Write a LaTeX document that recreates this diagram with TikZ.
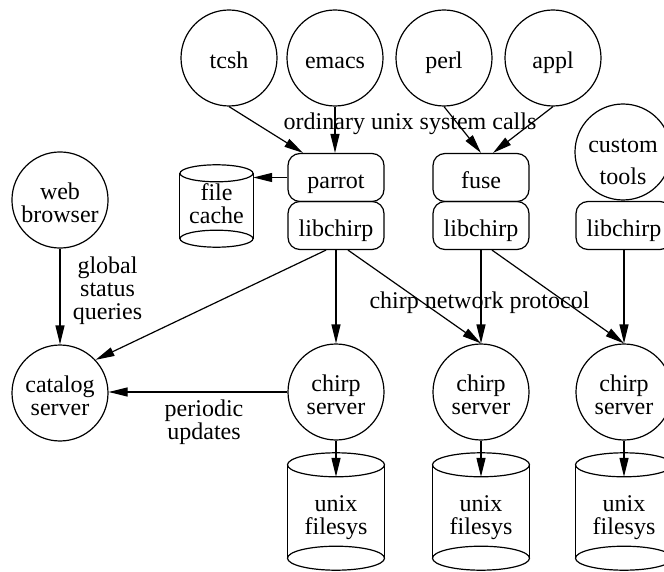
\documentclass[tikz,border=0pt]{standalone}
\usepackage{fontspec}
\setmainfont{Liberation Serif}
\usetikzlibrary{arrows.meta,calc}
% multi-line label with fixed room above the first and below the last baseline
\newcommand\lines[2][28pt]{\rule{0pt}{#1}#2\rule[-6pt]{0pt}{0pt}}
\begin{document}
\begin{tikzpicture}[x=1pt,y=-1pt,
  note/.style={font=\fontsize{24}{23}\selectfont, align=center, inner sep=0pt,
    execute at begin node={\rule{0pt}{28pt}},
    execute at end node={\rule[-6pt]{0pt}{0pt}}},
  prog/.style={note, circle, draw, line width=1.2pt, minimum size=96pt},
  stack/.style={note, draw, line width=1.2pt, rounded corners=12pt,
    minimum width=96pt, minimum height=48pt},
  disk/.style={note, minimum width=#1},
  flow/.style={line width=1.2pt, -{Triangle[length=19pt,width=9pt]}},
]
\useasboundingbox (0,0) rectangle (664,572);

% applications
\node[prog] (tcsh)   at (229,58)  {tcsh};
\node[prog] (emacs)  at (335,58)  {emacs};
\node[prog] (perl)   at (444,58)  {perl};
\node[prog] (appl)   at (553,58)  {appl};
\node[prog, inner sep=-5pt] (custom) at (623,152) {\lines[40pt]{custom\\[9pt]tools}};
\node[prog] (web)    at (60,200)  {\lines{web\\browser}};

% adapters and client libraries
\node[stack] (parrot) at (336,177.5) {parrot};
\node[stack] (lib1)   at (336,225.5) {libchirp};
\node[stack] (fuse)   at (481,177.5) {fuse};
\node[stack] (lib2)   at (481,225.5) {libchirp};
\node[stack] (lib3)   at (624,225.5) {libchirp};

% servers
\node[prog] (catalog) at (60,393)  {\lines{catalog\\server}};
\node[prog] (chirp1)  at (336,392) {\lines{chirp\\server}};
\node[prog] (chirp2)  at (481,392) {\lines{chirp\\server}};
\node[prog] (chirp3)  at (624,392) {\lines{chirp\\server}};

% storage
\node[disk=73pt, minimum height=82pt]  (fc)  at (216.5,206) {\lines[18pt]{file\\cache}};
\node[disk=97pt, minimum height=117pt] (fs1) at (336,511.5) {\lines{unix\\filesys}};
\node[disk=97pt, minimum height=117pt] (fs2) at (481,511.5) {\lines{unix\\filesys}};
\node[disk=97pt, minimum height=117pt] (fs3) at (624,511.5) {\lines{unix\\filesys}};

% cylinder outlines
\foreach \n/\rx/\ry in {fc/36.5/8.5, fs1/48.5/12, fs2/48.5/12, fs3/48.5/12} {
  \draw[line width=1.2pt] ($(\n.north)+(0,\ry)$) ellipse [x radius=\rx pt, y radius=\ry pt];
  \draw[line width=1.2pt] ($(\n.south)-(0,\ry)$) ellipse [x radius=\rx pt, y radius=\ry pt];
  \draw[line width=1.2pt] ($(\n.north west)+(0,\ry)$) -- ($(\n.south west)-(0,\ry)$);
  \draw[line width=1.2pt] ($(\n.north east)+(0,\ry)$) -- ($(\n.south east)-(0,\ry)$);
}

% edge labels
\node[note] (calls)   at (410,119)   {ordinary unix system calls};
\node[note] (proto)   at (479.5,297) {chirp network protocol};
\node[note] (queries) at (107.5,285) {\lines{global\\status\\queries}};
\node[note] (updates) at (204,417)   {\lines{periodic\\updates}};

% system calls
\draw[flow] (tcsh.south) -- ([xshift=-33pt]parrot.north);
\draw[flow] (emacs.south) -- (emacs.south |- parrot.north);
\draw[flow] (perl.south) -- (fuse.north);
\draw[flow] (appl.south) -- ([xshift=12pt]fuse.north);
\draw[flow] (parrot.west) -- (parrot.west -| fc.east);

% catalog traffic
\draw[flow] (web.south) -- (catalog.north);
\draw[flow] ([xshift=-10pt]lib1.south) -- (catalog.43);
\draw[flow] (chirp1.west) -- (chirp1.west -| catalog.east);

% chirp protocol
\draw[flow] (lib1.south) -- (chirp1.north);
\draw[flow] ([xshift=12pt]lib1.south) -- (chirp2.north);
\draw[flow] (lib2.south) -- (chirp2.north);
\draw[flow] ([xshift=11pt]lib2.south) -- (chirp3.north);
\draw[flow] (lib3.south) -- (chirp3.north);

% servers to local storage
\draw[flow] (chirp1.south) -- ($(fs1.north)+(0,24)$);
\draw[flow] (chirp2.south) -- ($(fs2.north)+(0,24)$);
\draw[flow] (chirp3.south) -- ($(fs3.north)+(0,24)$);
\end{tikzpicture}
\end{document}
